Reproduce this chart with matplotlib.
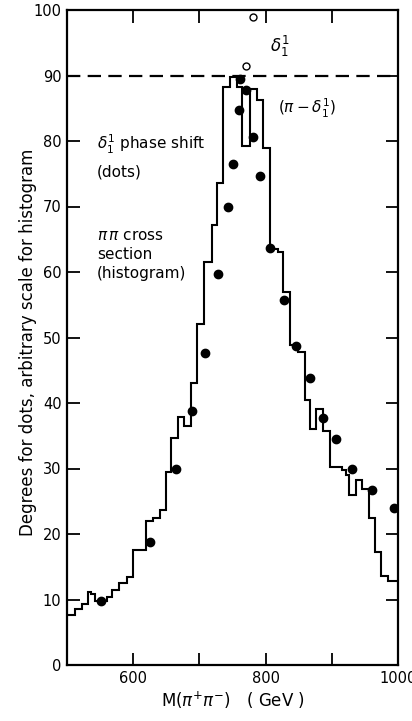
import numpy as np
import matplotlib
matplotlib.use("Agg")
import matplotlib.pyplot as plt

# histogram (pi pi cross section, arbitrary scale) - bin edges in GeV and heights
hist_edges = [500, 512, 522, 531, 537, 542, 560, 567.5, 579, 590, 600, 619, 630, 640,
              649, 657, 668, 677, 688, 697, 707, 718.5, 726, 736, 746, 757, 765, 776.5,
              786.5, 795.5, 806.5, 819, 826.5, 837, 849, 859.5, 867, 876, 887, 897, 915,
              921.5, 926, 936.5, 946, 956.5, 965, 975, 985, 1000]
hist_vals = [7.6, 8.5, 9.3, 11.2, 10.8, 9.7, 10.4, 11.45, 12.5, 13.5, 17.5, 22.0, 22.4,
             23.6, 29.5, 34.6, 37.8, 36.5, 43.1, 52.0, 61.5, 67.2, 73.6, 88.2, 89.8, 88.2,
             79.2, 88.0, 86.3, 78.9, 63.5, 63.1, 57.0, 48.9, 47.8, 40.4, 36.0, 39.1, 35.7,
             30.2, 29.8, 29.0, 26.0, 28.2, 26.8, 22.5, 17.2, 13.6, 12.8]

# phase shift delta_1^1 (dots), degrees
dot_m = [551, 625, 665, 689, 708.5, 728.5, 742.5, 751, 760, 762, 771, 781, 791.5,
         806.6, 828, 845.5, 867, 887, 906, 931, 961, 994]
dot_deg = [9.8, 18.8, 29.9, 38.8, 47.7, 59.7, 70.0, 76.5, 84.8, 89.4, 87.8, 80.6, 74.7,
           63.6, 55.7, 48.7, 43.8, 37.7, 34.5, 29.9, 26.7, 24.0]

# open circles (delta above 90)
open_m = [771, 781]
open_deg = [91.5, 98.9]

fig = plt.figure(figsize=(4.12, 7.21), dpi=100)
ax = fig.add_axes([67/412, 1 - 665/721, 331/412, 655/721])

ax.stairs(hist_vals, hist_edges, baseline=None, color='black', lw=1.5)
ax.plot(dot_m, dot_deg, 'o', color='black', ms=6)
ax.plot(open_m, open_deg, 'o', mfc='white', mec='black', mew=1.0, ms=5)
ax.axhline(90, color='black', lw=1.6, dashes=(6, 3.3))

ax.set_xlim(500, 1000)
ax.set_ylim(0, 100)
ax.set_xticks([600, 800, 1000])
ax.set_xticks([700, 900], minor=True)
ax.set_yticks(np.arange(0, 101, 10))
ax.tick_params(which='both', direction='in', length=9, width=1.3,
               top=True, right=True, labelsize=10.5, pad=4)
for s in ax.spines.values():
    s.set_linewidth(1.6)

ax.text(807, 94.5, r'$\delta_1^1$', fontsize=12, va='center')
ax.text(818, 85, r'$(\pi - \delta_1^1)$', fontsize=11, va='center')
ax.text(545, 79.5, r'$\delta_1^1$ phase shift', fontsize=11, va='center')
ax.text(545, 75.3, '(dots)', fontsize=11, va='center')
ax.text(545, 65.5, r'$\pi\,\pi$ cross', fontsize=11, va='center')
ax.text(545, 62.6, 'section', fontsize=11, va='center')
ax.text(545, 59.7, '(histogram)', fontsize=11, va='center')

ax.set_xlabel(r'M($\pi^{+}\pi^{-}$)   ( GeV )', fontsize=12, labelpad=3)
fig.text(28/412, 1 - 342/721, 'Degrees for dots, arbitrary scale for histogram',
         rotation=90, ha='center', va='center', fontsize=12)

fig.savefig('out.png', dpi=100)
